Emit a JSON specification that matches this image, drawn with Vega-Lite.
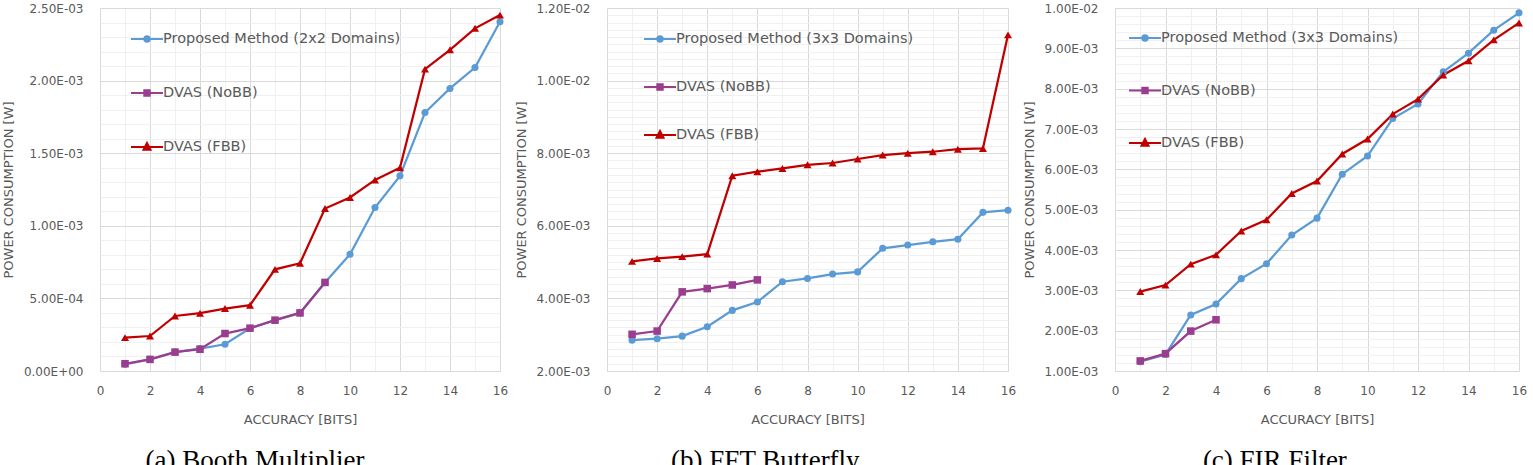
{
  "$schema": "https://vega.github.io/schema/vega-lite/v6.json",
  "padding": {"left": 2, "top": 2, "right": 0, "bottom": 0},
  "background": "white",
  "config": {
    "view": {"stroke": null},
    "axis": {
      "labelFont": "DejaVu Sans", "labelFontSize": 12, "labelColor": "#595959",
      "titleFont": "DejaVu Sans", "titleFontSize": 13, "titleColor": "#595959", "titleFontWeight": "normal",
      "ticks": false, "tickSize": 0, "domain": false, "gridWidth": 1,
      "labelOverlap": false, "labelFlush": false, "labelBound": false
    },
    "axisX": {"labelPadding": 14, "titlePadding": 17},
    "axisY": {"labelPadding": 17, "titlePadding": 8},
    "legend": {
      "orient": "none", "title": null, "labelFont": "DejaVu Sans", "labelFontSize": 14.5, "labelColor": "#595959",
      "labelLimit": 400, "padding": 0, "symbolSize": 1024, "symbolStrokeWidth": 2, "symbolOpacity": 1, "labelOffset": -1
    },
    "title": {
      "font": "Liberation Serif", "fontSize": 27, "fontWeight": "normal", "color": "#000000",
      "orient": "bottom", "anchor": "middle", "frame": "bounds", "baseline": "alphabetic", "offset": 22
    }
  },
  "datasets": {
    "a": [
      {"bits": 1, "power": 0.000046, "s": "Proposed Method (2x2 Domains)"},
      {"bits": 2, "power": 0.000080, "s": "Proposed Method (2x2 Domains)"},
      {"bits": 3, "power": 0.000130, "s": "Proposed Method (2x2 Domains)"},
      {"bits": 4, "power": 0.000154, "s": "Proposed Method (2x2 Domains)"},
      {"bits": 5, "power": 0.000184, "s": "Proposed Method (2x2 Domains)"},
      {"bits": 6, "power": 0.000294, "s": "Proposed Method (2x2 Domains)"},
      {"bits": 7, "power": 0.000350, "s": "Proposed Method (2x2 Domains)"},
      {"bits": 8, "power": 0.000400, "s": "Proposed Method (2x2 Domains)"},
      {"bits": 9, "power": 0.000610, "s": "Proposed Method (2x2 Domains)"},
      {"bits": 10, "power": 0.000804, "s": "Proposed Method (2x2 Domains)"},
      {"bits": 11, "power": 0.001126, "s": "Proposed Method (2x2 Domains)"},
      {"bits": 12, "power": 0.001344, "s": "Proposed Method (2x2 Domains)"},
      {"bits": 13, "power": 0.001780, "s": "Proposed Method (2x2 Domains)"},
      {"bits": 14, "power": 0.001946, "s": "Proposed Method (2x2 Domains)"},
      {"bits": 15, "power": 0.002090, "s": "Proposed Method (2x2 Domains)"},
      {"bits": 16, "power": 0.002405, "s": "Proposed Method (2x2 Domains)"},
      {"bits": 1, "power": 0.000050, "s": "DVAS (NoBB)"},
      {"bits": 2, "power": 0.000080, "s": "DVAS (NoBB)"},
      {"bits": 3, "power": 0.000130, "s": "DVAS (NoBB)"},
      {"bits": 4, "power": 0.000150, "s": "DVAS (NoBB)"},
      {"bits": 5, "power": 0.000258, "s": "DVAS (NoBB)"},
      {"bits": 6, "power": 0.000295, "s": "DVAS (NoBB)"},
      {"bits": 7, "power": 0.000350, "s": "DVAS (NoBB)"},
      {"bits": 8, "power": 0.000400, "s": "DVAS (NoBB)"},
      {"bits": 9, "power": 0.000610, "s": "DVAS (NoBB)"},
      {"bits": 1, "power": 0.000230, "s": "DVAS (FBB)"},
      {"bits": 2, "power": 0.000241, "s": "DVAS (FBB)"},
      {"bits": 3, "power": 0.000379, "s": "DVAS (FBB)"},
      {"bits": 4, "power": 0.000398, "s": "DVAS (FBB)"},
      {"bits": 5, "power": 0.000430, "s": "DVAS (FBB)"},
      {"bits": 6, "power": 0.000453, "s": "DVAS (FBB)"},
      {"bits": 7, "power": 0.000700, "s": "DVAS (FBB)"},
      {"bits": 8, "power": 0.000742, "s": "DVAS (FBB)"},
      {"bits": 9, "power": 0.001119, "s": "DVAS (FBB)"},
      {"bits": 10, "power": 0.001195, "s": "DVAS (FBB)"},
      {"bits": 11, "power": 0.001316, "s": "DVAS (FBB)"},
      {"bits": 12, "power": 0.001400, "s": "DVAS (FBB)"},
      {"bits": 13, "power": 0.002079, "s": "DVAS (FBB)"},
      {"bits": 14, "power": 0.002212, "s": "DVAS (FBB)"},
      {"bits": 15, "power": 0.002360, "s": "DVAS (FBB)"},
      {"bits": 16, "power": 0.002451, "s": "DVAS (FBB)"}
    ],
    "b": [
      {"bits": 1, "power": 0.00285, "s": "Proposed Method (3x3 Domains)"},
      {"bits": 2, "power": 0.00289, "s": "Proposed Method (3x3 Domains)"},
      {"bits": 3, "power": 0.00296, "s": "Proposed Method (3x3 Domains)"},
      {"bits": 4, "power": 0.00322, "s": "Proposed Method (3x3 Domains)"},
      {"bits": 5, "power": 0.00367, "s": "Proposed Method (3x3 Domains)"},
      {"bits": 6, "power": 0.00390, "s": "Proposed Method (3x3 Domains)"},
      {"bits": 7, "power": 0.00446, "s": "Proposed Method (3x3 Domains)"},
      {"bits": 8, "power": 0.00455, "s": "Proposed Method (3x3 Domains)"},
      {"bits": 9, "power": 0.00467, "s": "Proposed Method (3x3 Domains)"},
      {"bits": 10, "power": 0.00473, "s": "Proposed Method (3x3 Domains)"},
      {"bits": 11, "power": 0.00538, "s": "Proposed Method (3x3 Domains)"},
      {"bits": 12, "power": 0.00547, "s": "Proposed Method (3x3 Domains)"},
      {"bits": 13, "power": 0.00556, "s": "Proposed Method (3x3 Domains)"},
      {"bits": 14, "power": 0.00563, "s": "Proposed Method (3x3 Domains)"},
      {"bits": 15, "power": 0.00637, "s": "Proposed Method (3x3 Domains)"},
      {"bits": 16, "power": 0.00643, "s": "Proposed Method (3x3 Domains)"},
      {"bits": 1, "power": 0.00301, "s": "DVAS (NoBB)"},
      {"bits": 2, "power": 0.00310, "s": "DVAS (NoBB)"},
      {"bits": 3, "power": 0.00418, "s": "DVAS (NoBB)"},
      {"bits": 4, "power": 0.00427, "s": "DVAS (NoBB)"},
      {"bits": 5, "power": 0.00437, "s": "DVAS (NoBB)"},
      {"bits": 6, "power": 0.00451, "s": "DVAS (NoBB)"},
      {"bits": 1, "power": 0.00502, "s": "DVAS (FBB)"},
      {"bits": 2, "power": 0.00510, "s": "DVAS (FBB)"},
      {"bits": 3, "power": 0.00515, "s": "DVAS (FBB)"},
      {"bits": 4, "power": 0.00522, "s": "DVAS (FBB)"},
      {"bits": 5, "power": 0.00738, "s": "DVAS (FBB)"},
      {"bits": 6, "power": 0.00749, "s": "DVAS (FBB)"},
      {"bits": 7, "power": 0.00758, "s": "DVAS (FBB)"},
      {"bits": 8, "power": 0.00768, "s": "DVAS (FBB)"},
      {"bits": 9, "power": 0.00773, "s": "DVAS (FBB)"},
      {"bits": 10, "power": 0.00784, "s": "DVAS (FBB)"},
      {"bits": 11, "power": 0.00795, "s": "DVAS (FBB)"},
      {"bits": 12, "power": 0.00800, "s": "DVAS (FBB)"},
      {"bits": 13, "power": 0.00804, "s": "DVAS (FBB)"},
      {"bits": 14, "power": 0.00811, "s": "DVAS (FBB)"},
      {"bits": 15, "power": 0.00813, "s": "DVAS (FBB)"},
      {"bits": 16, "power": 0.01126, "s": "DVAS (FBB)"}
    ],
    "c": [
      {"bits": 1, "power": 0.00123, "s": "Proposed Method (3x3 Domains)"},
      {"bits": 2, "power": 0.00141, "s": "Proposed Method (3x3 Domains)"},
      {"bits": 3, "power": 0.00239, "s": "Proposed Method (3x3 Domains)"},
      {"bits": 4, "power": 0.00266, "s": "Proposed Method (3x3 Domains)"},
      {"bits": 5, "power": 0.00329, "s": "Proposed Method (3x3 Domains)"},
      {"bits": 6, "power": 0.00366, "s": "Proposed Method (3x3 Domains)"},
      {"bits": 7, "power": 0.00437, "s": "Proposed Method (3x3 Domains)"},
      {"bits": 8, "power": 0.00479, "s": "Proposed Method (3x3 Domains)"},
      {"bits": 9, "power": 0.00588, "s": "Proposed Method (3x3 Domains)"},
      {"bits": 10, "power": 0.00633, "s": "Proposed Method (3x3 Domains)"},
      {"bits": 11, "power": 0.00726, "s": "Proposed Method (3x3 Domains)"},
      {"bits": 12, "power": 0.00762, "s": "Proposed Method (3x3 Domains)"},
      {"bits": 13, "power": 0.00842, "s": "Proposed Method (3x3 Domains)"},
      {"bits": 14, "power": 0.00888, "s": "Proposed Method (3x3 Domains)"},
      {"bits": 15, "power": 0.00945, "s": "Proposed Method (3x3 Domains)"},
      {"bits": 16, "power": 0.00988, "s": "Proposed Method (3x3 Domains)"},
      {"bits": 1, "power": 0.00125, "s": "DVAS (NoBB)"},
      {"bits": 2, "power": 0.00143, "s": "DVAS (NoBB)"},
      {"bits": 3, "power": 0.00199, "s": "DVAS (NoBB)"},
      {"bits": 4, "power": 0.00227, "s": "DVAS (NoBB)"},
      {"bits": 1, "power": 0.00297, "s": "DVAS (FBB)"},
      {"bits": 2, "power": 0.00313, "s": "DVAS (FBB)"},
      {"bits": 3, "power": 0.00365, "s": "DVAS (FBB)"},
      {"bits": 4, "power": 0.00388, "s": "DVAS (FBB)"},
      {"bits": 5, "power": 0.00447, "s": "DVAS (FBB)"},
      {"bits": 6, "power": 0.00475, "s": "DVAS (FBB)"},
      {"bits": 7, "power": 0.00540, "s": "DVAS (FBB)"},
      {"bits": 8, "power": 0.00571, "s": "DVAS (FBB)"},
      {"bits": 9, "power": 0.00638, "s": "DVAS (FBB)"},
      {"bits": 10, "power": 0.00675, "s": "DVAS (FBB)"},
      {"bits": 11, "power": 0.00737, "s": "DVAS (FBB)"},
      {"bits": 12, "power": 0.00774, "s": "DVAS (FBB)"},
      {"bits": 13, "power": 0.00834, "s": "DVAS (FBB)"},
      {"bits": 14, "power": 0.00869, "s": "DVAS (FBB)"},
      {"bits": 15, "power": 0.00921, "s": "DVAS (FBB)"},
      {"bits": 16, "power": 0.00963, "s": "DVAS (FBB)"}
    ]
  },
  "spacing": 107,
  "bounds": "flush",
  "resolve": {
    "scale": {"x": "independent", "y": "independent", "color": "independent", "shape": "independent", "size": "independent", "fill": "independent", "stroke": "independent"},
    "axis": {"x": "independent", "y": "independent"},
    "legend": {"color": "independent", "shape": "independent", "fill": "independent", "stroke": "independent"}
  },
  "hconcat": [
    {
      "width": 400, "height": 363,
      "data": {"name": "a"},
      "title": {"text": "(a) Booth Multiplier"},
      "encoding": {
        "x": {"field": "bits", "type": "quantitative", "scale": {"domain": [0, 16], "nice": false, "zero": false},
          "axis": {"title": "ACCURACY [BITS]", "values": [0,1,2,3,4,5,6,7,8,9,10,11,12,13,14,15,16],
            "labelExpr": "datum.value % 2 == 0 ? datum.label : ''",
            "gridColor": {"condition": {"test": "datum.value % 2 == 0", "value": "#D9D9D9"}, "value": "#F0F0F0"}}},
        "y": {"field": "power", "type": "quantitative", "scale": {"domain": [0, 0.0025], "nice": false},
          "axis": {"title": "POWER CONSUMPTION [W]",
            "values": [0,0.0001,0.0002,0.0003,0.0004,0.0005,0.0006,0.0007,0.0008,0.0009,0.001,0.0011,0.0012,0.0013,0.0014,0.0015,0.0016,0.0017,0.0018,0.0019,0.002,0.0021,0.0022,0.0023,0.0024,0.0025],
            "labelExpr": "abs(datum.value*2000 - round(datum.value*2000)) < 0.001 ? replace(replace(format(datum.value, '.2e'), 'e-', 'E-0'), 'e+', 'E+0') : ''",
            "gridColor": {"condition": {"test": "abs(datum.value*2000 - round(datum.value*2000)) < 0.001", "value": "#D9D9D9"}, "value": "#F0F0F0"}}}
      },
      "layer": [
        {"mark": {"type": "line", "strokeWidth": 2.25},
          "encoding": {
            "color": {"field": "s", "type": "nominal", "legend": null,
              "scale": {"domain": ["Proposed Method (2x2 Domains)", "DVAS (NoBB)", "DVAS (FBB)"], "range": ["#5B9BD5", "#9B3D8F", "#C00000"]}}
          }},
        {"mark": {"type": "point", "filled": true, "opacity": 1},
          "encoding": {
            "color": {"field": "s", "type": "nominal", "legend": null,
              "scale": {"domain": ["Proposed Method (2x2 Domains)", "DVAS (NoBB)", "DVAS (FBB)"], "range": ["#5B9BD5", "#9B3D8F", "#C00000"]}},
            "shape": {"field": "s", "type": "nominal", "legend": null,
              "scale": {"domain": ["Proposed Method (2x2 Domains)", "DVAS (NoBB)", "DVAS (FBB)"], "range": ["circle", "square", "triangle-up"]}},
            "size": {"field": "s", "type": "nominal", "legend": null,
              "scale": {"domain": ["Proposed Method (2x2 Domains)", "DVAS (NoBB)", "DVAS (FBB)"], "range": [50, 64, 95]}}
          }},
        {"transform": [{"filter": "false"}],
          "mark": {"type": "point", "filled": true, "strokeWidth": 2},
          "encoding": {
            "fill": {"field": "s", "type": "nominal",
              "scale": {"domain": ["Proposed Method (2x2 Domains)", "DVAS (NoBB)", "DVAS (FBB)"], "range": ["#5B9BD5", "#9B3D8F", "#C00000"]},
              "legend": {"legendX": 30, "legendY": 14, "rowPadding": 30}},
            "stroke": {"field": "s", "type": "nominal",
              "scale": {"domain": ["Proposed Method (2x2 Domains)", "DVAS (NoBB)", "DVAS (FBB)"], "range": ["#5B9BD5", "#9B3D8F", "#C00000"]},
              "legend": {"legendX": 30, "legendY": 14, "rowPadding": 30}},
            "shape": {"field": "s", "type": "nominal",
              "scale": {"domain": ["Proposed Method (2x2 Domains)", "DVAS (NoBB)", "DVAS (FBB)"],
                "range": ["M-1,0H1M0.17,0C0.17,0.094,0.094,0.17,0,0.17C-0.094,0.17,-0.17,0.094,-0.17,0C-0.17,-0.094,-0.094,-0.17,0,-0.17C0.094,-0.17,0.17,-0.094,0.17,0Z", "M-1,0H1M-0.17,-0.17H0.17V0.17H-0.17Z", "M-1,0H1M0,-0.26L0.22,0.17H-0.22Z"]},
              "legend": {"legendX": 30, "legendY": 14, "rowPadding": 30}}
          }}
      ],
      "resolve": {"scale": {"shape": "independent", "fill": "independent", "stroke": "independent"}, "legend": {"shape": "independent", "fill": "independent", "stroke": "independent"}}
    },
    {
      "width": 401, "height": 363,
      "data": {"name": "b"},
      "title": {"text": "(b) FFT Butterfly"},
      "encoding": {
        "x": {"field": "bits", "type": "quantitative", "scale": {"domain": [0, 16], "nice": false, "zero": false},
          "axis": {"title": "ACCURACY [BITS]", "values": [0,1,2,3,4,5,6,7,8,9,10,11,12,13,14,15,16],
            "labelExpr": "datum.value % 2 == 0 ? datum.label : ''",
            "gridColor": {"condition": {"test": "datum.value % 2 == 0", "value": "#D9D9D9"}, "value": "#F0F0F0"}}},
        "y": {"field": "power", "type": "quantitative", "scale": {"domain": [0.002, 0.012], "nice": false, "zero": false},
          "axis": {"title": "POWER CONSUMPTION [W]",
            "values": [0.002,0.0022,0.0024,0.0026,0.0028,0.003,0.0032,0.0034,0.0036,0.0038,0.004,0.0042,0.0044,0.0046,0.0048,0.005,0.0052,0.0054,0.0056,0.0058,0.006,0.0062,0.0064,0.0066,0.0068,0.007,0.0072,0.0074,0.0076,0.0078,0.008,0.0082,0.0084,0.0086,0.0088,0.009,0.0092,0.0094,0.0096,0.0098,0.01,0.0102,0.0104,0.0106,0.0108,0.011,0.0112,0.0114,0.0116,0.0118,0.012],
            "labelExpr": "abs(datum.value*500 - round(datum.value*500)) < 0.001 ? replace(replace(format(datum.value, '.2e'), 'e-', 'E-0'), 'e+', 'E+0') : ''",
            "gridColor": {"condition": {"test": "abs(datum.value*500 - round(datum.value*500)) < 0.001", "value": "#D9D9D9"}, "value": "#F0F0F0"}}}
      },
      "layer": [
        {"mark": {"type": "line", "strokeWidth": 2.25},
          "encoding": {
            "color": {"field": "s", "type": "nominal", "legend": null,
              "scale": {"domain": ["Proposed Method (3x3 Domains)", "DVAS (NoBB)", "DVAS (FBB)"], "range": ["#5B9BD5", "#9B3D8F", "#C00000"]}}
          }},
        {"mark": {"type": "point", "filled": true, "opacity": 1},
          "encoding": {
            "color": {"field": "s", "type": "nominal", "legend": null,
              "scale": {"domain": ["Proposed Method (3x3 Domains)", "DVAS (NoBB)", "DVAS (FBB)"], "range": ["#5B9BD5", "#9B3D8F", "#C00000"]}},
            "shape": {"field": "s", "type": "nominal", "legend": null,
              "scale": {"domain": ["Proposed Method (3x3 Domains)", "DVAS (NoBB)", "DVAS (FBB)"], "range": ["circle", "square", "triangle-up"]}},
            "size": {"field": "s", "type": "nominal", "legend": null,
              "scale": {"domain": ["Proposed Method (3x3 Domains)", "DVAS (NoBB)", "DVAS (FBB)"], "range": [50, 64, 95]}}
          }},
        {"transform": [{"filter": "false"}],
          "mark": {"type": "point", "filled": true, "strokeWidth": 2},
          "encoding": {
            "fill": {"field": "s", "type": "nominal",
              "scale": {"domain": ["Proposed Method (3x3 Domains)", "DVAS (NoBB)", "DVAS (FBB)"], "range": ["#5B9BD5", "#9B3D8F", "#C00000"]},
              "legend": {"legendX": 36, "legendY": 14, "rowPadding": 24}},
            "stroke": {"field": "s", "type": "nominal",
              "scale": {"domain": ["Proposed Method (3x3 Domains)", "DVAS (NoBB)", "DVAS (FBB)"], "range": ["#5B9BD5", "#9B3D8F", "#C00000"]},
              "legend": {"legendX": 36, "legendY": 14, "rowPadding": 24}},
            "shape": {"field": "s", "type": "nominal",
              "scale": {"domain": ["Proposed Method (3x3 Domains)", "DVAS (NoBB)", "DVAS (FBB)"],
                "range": ["M-1,0H1M0.17,0C0.17,0.094,0.094,0.17,0,0.17C-0.094,0.17,-0.17,0.094,-0.17,0C-0.17,-0.094,-0.094,-0.17,0,-0.17C0.094,-0.17,0.17,-0.094,0.17,0Z", "M-1,0H1M-0.17,-0.17H0.17V0.17H-0.17Z", "M-1,0H1M0,-0.26L0.22,0.17H-0.22Z"]},
              "legend": {"legendX": 36, "legendY": 14, "rowPadding": 24}}
          }}
      ],
      "resolve": {"scale": {"shape": "independent", "fill": "independent", "stroke": "independent"}, "legend": {"shape": "independent", "fill": "independent", "stroke": "independent"}}
    },
    {
      "width": 404, "height": 363,
      "data": {"name": "c"},
      "title": {"text": "(c) FIR Filter"},
      "encoding": {
        "x": {"field": "bits", "type": "quantitative", "scale": {"domain": [0, 16], "nice": false, "zero": false},
          "axis": {"title": "ACCURACY [BITS]", "values": [0,1,2,3,4,5,6,7,8,9,10,11,12,13,14,15,16],
            "labelExpr": "datum.value % 2 == 0 ? datum.label : ''",
            "gridColor": {"condition": {"test": "datum.value % 2 == 0", "value": "#D9D9D9"}, "value": "#F0F0F0"}}},
        "y": {"field": "power", "type": "quantitative", "scale": {"domain": [0.001, 0.01], "nice": false, "zero": false},
          "axis": {"title": "POWER CONSUMPTION [W]",
            "values": [0.001,0.0012,0.0014,0.0016,0.0018,0.002,0.0022,0.0024,0.0026,0.0028,0.003,0.0032,0.0034,0.0036,0.0038,0.004,0.0042,0.0044,0.0046,0.0048,0.005,0.0052,0.0054,0.0056,0.0058,0.006,0.0062,0.0064,0.0066,0.0068,0.007,0.0072,0.0074,0.0076,0.0078,0.008,0.0082,0.0084,0.0086,0.0088,0.009,0.0092,0.0094,0.0096,0.0098,0.01],
            "labelExpr": "abs(datum.value*1000 - round(datum.value*1000)) < 0.001 ? replace(replace(format(datum.value, '.2e'), 'e-', 'E-0'), 'e+', 'E+0') : ''",
            "gridColor": {"condition": {"test": "abs(datum.value*1000 - round(datum.value*1000)) < 0.001", "value": "#D9D9D9"}, "value": "#F0F0F0"}}}
      },
      "layer": [
        {"mark": {"type": "line", "strokeWidth": 2.25},
          "encoding": {
            "color": {"field": "s", "type": "nominal", "legend": null,
              "scale": {"domain": ["Proposed Method (3x3 Domains)", "DVAS (NoBB)", "DVAS (FBB)"], "range": ["#5B9BD5", "#9B3D8F", "#C00000"]}}
          }},
        {"mark": {"type": "point", "filled": true, "opacity": 1},
          "encoding": {
            "color": {"field": "s", "type": "nominal", "legend": null,
              "scale": {"domain": ["Proposed Method (3x3 Domains)", "DVAS (NoBB)", "DVAS (FBB)"], "range": ["#5B9BD5", "#9B3D8F", "#C00000"]}},
            "shape": {"field": "s", "type": "nominal", "legend": null,
              "scale": {"domain": ["Proposed Method (3x3 Domains)", "DVAS (NoBB)", "DVAS (FBB)"], "range": ["circle", "square", "triangle-up"]}},
            "size": {"field": "s", "type": "nominal", "legend": null,
              "scale": {"domain": ["Proposed Method (3x3 Domains)", "DVAS (NoBB)", "DVAS (FBB)"], "range": [50, 64, 95]}}
          }},
        {"transform": [{"filter": "false"}],
          "mark": {"type": "point", "filled": true, "strokeWidth": 2},
          "encoding": {
            "fill": {"field": "s", "type": "nominal",
              "scale": {"domain": ["Proposed Method (3x3 Domains)", "DVAS (NoBB)", "DVAS (FBB)"], "range": ["#5B9BD5", "#9B3D8F", "#C00000"]},
              "legend": {"legendX": 13, "legendY": 13, "rowPadding": 28.5}},
            "stroke": {"field": "s", "type": "nominal",
              "scale": {"domain": ["Proposed Method (3x3 Domains)", "DVAS (NoBB)", "DVAS (FBB)"], "range": ["#5B9BD5", "#9B3D8F", "#C00000"]},
              "legend": {"legendX": 13, "legendY": 13, "rowPadding": 28.5}},
            "shape": {"field": "s", "type": "nominal",
              "scale": {"domain": ["Proposed Method (3x3 Domains)", "DVAS (NoBB)", "DVAS (FBB)"],
                "range": ["M-1,0H1M0.17,0C0.17,0.094,0.094,0.17,0,0.17C-0.094,0.17,-0.17,0.094,-0.17,0C-0.17,-0.094,-0.094,-0.17,0,-0.17C0.094,-0.17,0.17,-0.094,0.17,0Z", "M-1,0H1M-0.17,-0.17H0.17V0.17H-0.17Z", "M-1,0H1M0,-0.26L0.22,0.17H-0.22Z"]},
              "legend": {"legendX": 13, "legendY": 13, "rowPadding": 28.5}}
          }}
      ],
      "resolve": {"scale": {"shape": "independent", "fill": "independent", "stroke": "independent"}, "legend": {"shape": "independent", "fill": "independent", "stroke": "independent"}}
    }
  ]
}
